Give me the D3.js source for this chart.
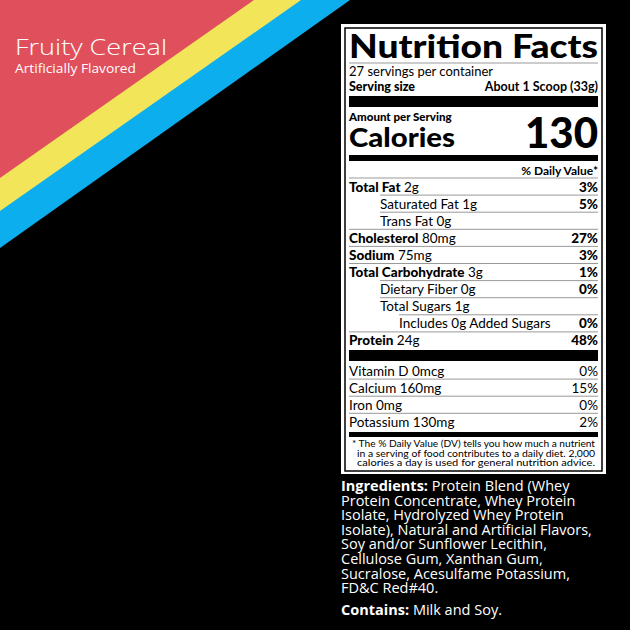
<!DOCTYPE html><html><head><meta charset="utf-8">
<script src="https://cdn.jsdelivr.net/npm/d3@7"></script>
<style>body{margin:0;background:#000}svg{display:block}</style></head><body>
<script>
const nutrients=["Total Fat","Saturated Fat","Trans Fat","Cholesterol","Sodium","Total Carbohydrate","Dietary Fiber","Total Sugars","Includes 0g Added Sugars","Protein"];
const amounts=["2g","1g","0g","80mg","75mg","3g","0g","1g","","24g"];
const dv=["3%","5%","","27%","3%","1%","0%","","0%","48%"];
const indent=[0,1,1,0,0,0,1,1,2,0];
const bold=[1,0,0,1,1,1,0,0,0,1];
const vitamins=["Vitamin D 0mcg","Calcium 160mg","Iron 0mg","Potassium 130mg"];
const vitDV=["0%","15%","0%","2%"];
const footnote=["* The % Daily Value (DV) tells you how much a nutrient","in a serving of food contributes to a daily diet. 2,000","calories a  day is used for general nutrition advice."];
const ingredients=["Protein Blend (Whey","Protein Concentrate, Whey Protein","Isolate, Hydrolyzed Whey Protein","Isolate), Natural and Artificial Flavors,","Soy and/or Sunflower Lecithin,","Cellulose Gum, Xanthan Gum,","Sucralose, Acesulfame Potassium,","FD&C Red#40."];

const svg=d3.select("body").append("svg").attr("width",630).attr("height",630);
svg.append("rect").attr("width",630).attr("height",630).attr("fill","#000");
svg.append("polygon").attr("points","0,0 350,0 0,248").attr("fill","#0daeee");
svg.append("polygon").attr("points","0,0 301,0 0,211").attr("fill","#f3e55a");
svg.append("polygon").attr("points","0,0 254,0 0,178").attr("fill","#e0505c");
svg.append("text").attr("x",15).attr("y",55).attr("fill","#fff").attr("font-family","Open Sans").attr("font-weight",300).attr("font-size",22).attr("textLength",152).attr("lengthAdjust","spacingAndGlyphs").text("Fruity Cereal");
svg.append("text").attr("x",15).attr("y",73).attr("fill","#fff").attr("font-family","Open Sans").attr("font-size",12).attr("textLength",121).attr("lengthAdjust","spacingAndGlyphs").text("Artificially Flavored");

const L=349,R=598,F="Lato";
const g=svg.append("g");
g.append("rect").attr("x",341).attr("y",24).attr("width",265).attr("height",450).attr("fill","#fff");
g.append("rect").attr("x",345).attr("y",28).attr("width",257).attr("height",443).attr("fill","none").attr("stroke","#000").attr("stroke-width",1.5);
function line(y,x0){g.append("line").attr("x1",x0||L).attr("x2",R).attr("y1",y).attr("y2",y).attr("stroke","#999").attr("stroke-width",1);}
function txt(x,y,s,sz,wt,anchor){return g.append("text").attr("x",x).attr("y",y).attr("font-family",F).attr("font-size",sz).attr("font-weight",wt||400).attr("text-anchor",anchor||"start").attr("fill","#000").text(s);}
txt(L,58,"Nutrition Facts",32,900).attr("textLength",R-L).attr("lengthAdjust","spacingAndGlyphs");
line(63);
txt(L,76,"27 servings per container",13);
txt(L,91,"Serving size",12.5,900);
txt(R,91,"About 1 Scoop (33g)",12.5,700,"end");
g.append("rect").attr("x",L).attr("y",96).attr("width",R-L).attr("height",11).attr("fill","#000");
txt(L,121,"Amount per Serving",11.5,900);
txt(L,147,"Calories",27,900).attr("textLength",106).attr("lengthAdjust","spacingAndGlyphs");
txt(R,148,"130",42,900,"end");
g.append("rect").attr("x",L).attr("y",155).attr("width",R-L).attr("height",6).attr("fill","#000");
txt(R,175,"% Daily Value*",12,700,"end");
const y0=178,step=17.1;
const yS=d3.scaleLinear().domain([0,1]).range([y0,y0+step]);
nutrients.forEach((n,i)=>{
  const top=yS(i), base=top+13.5;
  const x=L+(indent[i]===2?50:indent[i]*31);
  line(top, x);
  const t=txt(x,base,"",13.5);
  t.append("tspan").attr("font-weight",bold[i]?900:400).text(n);
  if(amounts[i]) t.append("tspan").attr("font-weight",400).text(" "+amounts[i]);
  if(dv[i]) txt(R,base,dv[i],13.5,900,"end");
});
g.append("rect").attr("x",L).attr("y",350).attr("width",R-L).attr("height",11).attr("fill","#000");
vitamins.forEach((v,i)=>{
  const top=362+i*17.1;
  if(i>0) line(top);
  txt(L,top+13.5,v,13.5);
  txt(R,top+13.5,vitDV[i],13.5,400,"end");
});
g.append("rect").attr("x",L).attr("y",432).attr("width",R-L).attr("height",5).attr("fill","#000");
footnote.forEach((f,i)=>txt(i?357:352,447+i*9.6,f,9).attr("textLength",595-(i?357:352)).attr("lengthAdjust","spacingAndGlyphs"));

const ing=svg.append("g").attr("font-family","Open Sans").attr("font-size",14.5).attr("fill","#fff");
ingredients.forEach((s,i)=>{
  const t=ing.append("text").attr("x",341).attr("y",491+i*14.6);
  if(i===0){t.append("tspan").attr("font-weight",700).text("Ingredients:");t.append("tspan").text(" "+s);}
  else t.text(s);
});
const c=ing.append("text").attr("x",341).attr("y",615);
c.append("tspan").attr("font-weight",700).text("Contains:");c.append("tspan").text(" Milk and Soy.");
</script></body></html>
